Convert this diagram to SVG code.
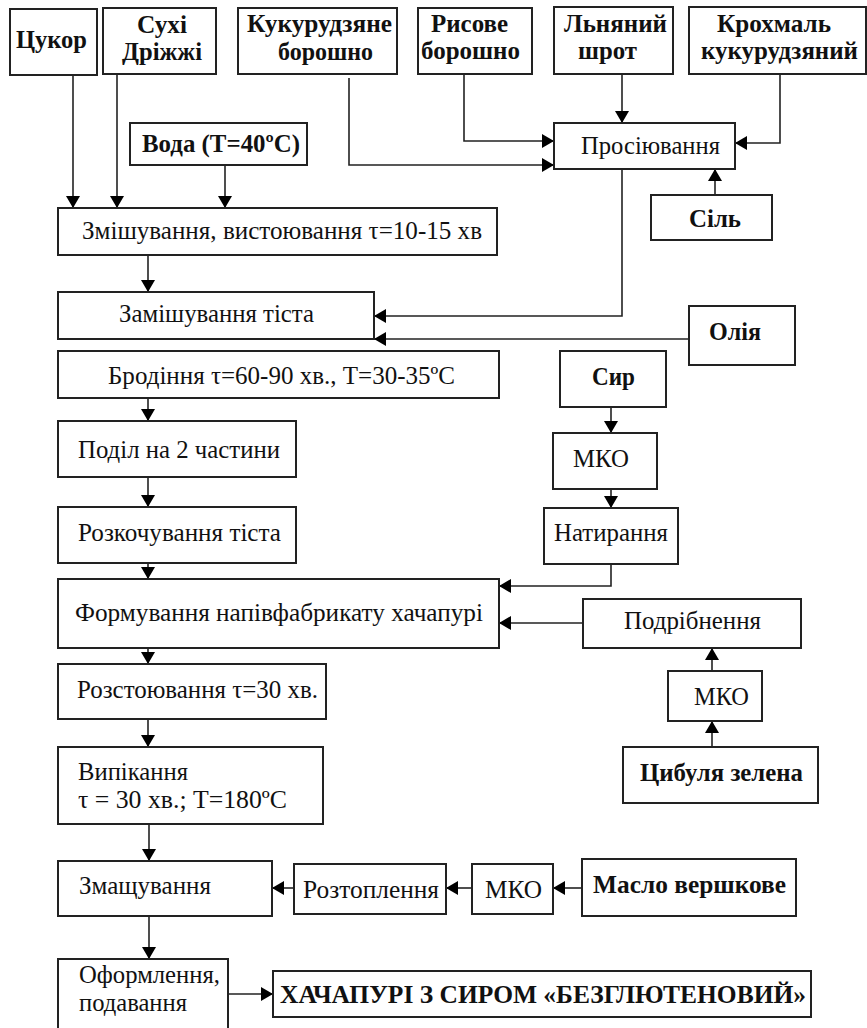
<svg xmlns="http://www.w3.org/2000/svg" width="867" height="1028" viewBox="0 0 867 1028">
<style>
.box{fill:#fff;stroke:#222;stroke-width:2}
.t{font-family:"Liberation Serif","Times New Roman",serif;font-size:25px;fill:#111}
.b{font-weight:bold}
.c{fill:none;stroke:#222;stroke-width:1.6;marker-end:url(#a)}
</style>
<defs>
<marker id="a" viewBox="0 0 12 14" refX="12" refY="7" markerWidth="12" markerHeight="14" markerUnits="userSpaceOnUse" orient="auto">
<path d="M0,0 L12,7 L0,14 z" fill="#000"/>
</marker>
</defs>
<rect width="867" height="1028" fill="#fff"/>
<g id="connectors">
<path class="c" d="M73 76 V208"/>
<path class="c" d="M117 74 V208"/>
<path class="c" d="M225 165 V208"/>
<path class="c" d="M349 78 V165 H554"/>
<path class="c" d="M464 74 V141 H554"/>
<path class="c" d="M622 74 V123"/>
<path class="c" d="M780 74 V143 H735"/>
<path class="c" d="M715 195 V169"/>
<path class="c" d="M622 169 V316 H374"/>
<path class="c" d="M689 339 H374"/>
<path class="c" d="M148 255 V292"/>
<path class="c" d="M148 398 V421"/>
<path class="c" d="M148 477 V507"/>
<path class="c" d="M148 563 V579"/>
<path class="c" d="M611 407 V433"/>
<path class="c" d="M611 489 V508"/>
<path class="c" d="M611 564 V586 H499"/>
<path class="c" d="M583 623 H499"/>
<path class="c" d="M712 671 V648"/>
<path class="c" d="M712 747 V721"/>
<path class="c" d="M148 648 V664"/>
<path class="c" d="M148 719 V747"/>
<path class="c" d="M149 824 V861"/>
<path class="c" d="M582 888 H553"/>
<path class="c" d="M472 888 H446"/>
<path class="c" d="M294 888 H272"/>
<path class="c" d="M149 916 V959"/>
<path class="c" d="M228 994 H273"/>
</g>
<g id="n-tsukor"><rect class="box" x="10" y="9" width="87" height="66"/><text class="t b" x="16" y="48" textLength="71" lengthAdjust="spacingAndGlyphs">Цукор</text></g>
<g id="n-drizhzhi"><rect class="box" x="103" y="8" width="113" height="66"/><text class="t b" x="137" y="33" textLength="50" lengthAdjust="spacingAndGlyphs">Сухі</text><text class="t b" x="122" y="60" textLength="80" lengthAdjust="spacingAndGlyphs">Дріжжі</text></g>
<g id="n-kukuruza"><rect class="box" x="238" y="8" width="159" height="66"/><text class="t b" x="247" y="32" textLength="145" lengthAdjust="spacingAndGlyphs">Кукурудзяне</text><text class="t b" x="278" y="60" textLength="95" lengthAdjust="spacingAndGlyphs">борошно</text></g>
<g id="n-rys"><rect class="box" x="418" y="8" width="114" height="66"/><text class="t b" x="431" y="32" textLength="77" lengthAdjust="spacingAndGlyphs">Рисове</text><text class="t b" x="421" y="59" textLength="99" lengthAdjust="spacingAndGlyphs">борошно</text></g>
<g id="n-shrot"><rect class="box" x="554" y="7" width="119" height="67"/><text class="t b" x="564" y="32" textLength="103" lengthAdjust="spacingAndGlyphs">Льняний</text><text class="t b" x="578" y="59" textLength="59" lengthAdjust="spacingAndGlyphs">шрот</text></g>
<g id="n-krokhmal"><rect class="box" x="689" y="7" width="177" height="67"/><text class="t b" x="717" y="32" textLength="114" lengthAdjust="spacingAndGlyphs">Крохмаль</text><text class="t b" x="701" y="59" textLength="157" lengthAdjust="spacingAndGlyphs">кукурудзяний</text></g>
<g id="n-voda"><rect class="box" x="130" y="123" width="177" height="42"/><text class="t b" x="142" y="152" textLength="158" lengthAdjust="spacingAndGlyphs">Вода (Т=40ºC)</text></g>
<g id="n-prosiyuvannya"><rect class="box" x="554" y="123" width="181" height="46"/><text class="t" x="581" y="154" textLength="139" lengthAdjust="spacingAndGlyphs">Просіювання</text></g>
<g id="n-sil"><rect class="box" x="651" y="195" width="121" height="45"/><text class="t b" x="689" y="227" textLength="52" lengthAdjust="spacingAndGlyphs">Сіль</text></g>
<g id="n-zmishuvannya"><rect class="box" x="58" y="208" width="439" height="47"/><text class="t" x="82" y="239" textLength="400" lengthAdjust="spacingAndGlyphs">Змішування, вистоювання τ=10-15 хв</text></g>
<g id="n-zamishuvannya"><rect class="box" x="58" y="292" width="316" height="47"/><text class="t" x="119" y="322" textLength="195" lengthAdjust="spacingAndGlyphs">Замішування тіста</text></g>
<g id="n-oliya"><rect class="box" x="689" y="306" width="106" height="59"/><text class="t b" x="709" y="340" textLength="52" lengthAdjust="spacingAndGlyphs">Олія</text></g>
<g id="n-brodinnya"><rect class="box" x="58" y="351" width="441" height="47"/><text class="t" x="108" y="384" textLength="347" lengthAdjust="spacingAndGlyphs">Бродіння τ=60-90 хв., Т=30-35ºС</text></g>
<g id="n-syr"><rect class="box" x="560" y="351" width="106" height="56"/><text class="t b" x="592" y="385" textLength="43" lengthAdjust="spacingAndGlyphs">Сир</text></g>
<g id="n-mko1"><rect class="box" x="553" y="433" width="104" height="56"/><text class="t" x="573" y="467" textLength="56" lengthAdjust="spacingAndGlyphs">МКО</text></g>
<g id="n-podil"><rect class="box" x="58" y="421" width="238" height="56"/><text class="t" x="78" y="458" textLength="202" lengthAdjust="spacingAndGlyphs">Поділ на 2 частини</text></g>
<g id="n-natyrannya"><rect class="box" x="544" y="508" width="134" height="56"/><text class="t" x="554" y="541" textLength="114" lengthAdjust="spacingAndGlyphs">Натирання</text></g>
<g id="n-rozkochuvannya"><rect class="box" x="58" y="507" width="238" height="56"/><text class="t" x="78" y="541" textLength="203" lengthAdjust="spacingAndGlyphs">Розкочування тіста</text></g>
<g id="n-formuvannya"><rect class="box" x="58" y="579" width="441" height="69"/><text class="t" x="75" y="621" textLength="408" lengthAdjust="spacingAndGlyphs">Формування напівфабрикату хачапурі</text></g>
<g id="n-podribnennya"><rect class="box" x="583" y="599" width="218" height="49"/><text class="t" x="624" y="629" textLength="137" lengthAdjust="spacingAndGlyphs">Подрібнення</text></g>
<g id="n-mko2"><rect class="box" x="668" y="671" width="94" height="50"/><text class="t" x="694" y="705" textLength="55" lengthAdjust="spacingAndGlyphs">МКО</text></g>
<g id="n-rozstoyuvannya"><rect class="box" x="58" y="664" width="268" height="55"/><text class="t" x="77" y="698" textLength="241" lengthAdjust="spacingAndGlyphs">Розстоювання τ=30 хв.</text></g>
<g id="n-vypikannya"><rect class="box" x="58" y="747" width="265" height="77"/><text class="t" x="78" y="780" textLength="110" lengthAdjust="spacingAndGlyphs">Випікання</text><text class="t" x="78" y="808" textLength="209" lengthAdjust="spacingAndGlyphs">τ = 30 хв.;  Т=180ºС</text></g>
<g id="n-tsybulya"><rect class="box" x="623" y="747" width="195" height="56"/><text class="t b" x="640" y="781" textLength="163" lengthAdjust="spacingAndGlyphs">Цибуля зелена</text></g>
<g id="n-zmashchuvannya"><rect class="box" x="58" y="861" width="214" height="55"/><text class="t" x="79" y="894" textLength="132" lengthAdjust="spacingAndGlyphs">Змащування</text></g>
<g id="n-roztoplennya"><rect class="box" x="294" y="864" width="152" height="50"/><text class="t" x="303" y="898" textLength="136" lengthAdjust="spacingAndGlyphs">Розтоплення</text></g>
<g id="n-mko3"><rect class="box" x="472" y="864" width="81" height="50"/><text class="t" x="485" y="898" textLength="57" lengthAdjust="spacingAndGlyphs">МКО</text></g>
<g id="n-maslo"><rect class="box" x="582" y="859" width="214" height="57"/><text class="t b" x="593" y="893" textLength="193" lengthAdjust="spacingAndGlyphs">Масло вершкове</text></g>
<g id="n-oformlennya"><rect class="box" x="58" y="959" width="170" height="80"/><text class="t" x="79" y="983" textLength="141" lengthAdjust="spacingAndGlyphs">Оформлення,</text><text class="t" x="79" y="1011" textLength="108" lengthAdjust="spacingAndGlyphs">подавання</text></g>
<g id="n-khachapuri"><rect class="box" x="273" y="971" width="538" height="46"/><text class="t b" x="280" y="1003" textLength="526" lengthAdjust="spacingAndGlyphs">ХАЧАПУРІ З СИРОМ «БЕЗГЛЮТЕНОВИЙ»</text></g>
</svg>
